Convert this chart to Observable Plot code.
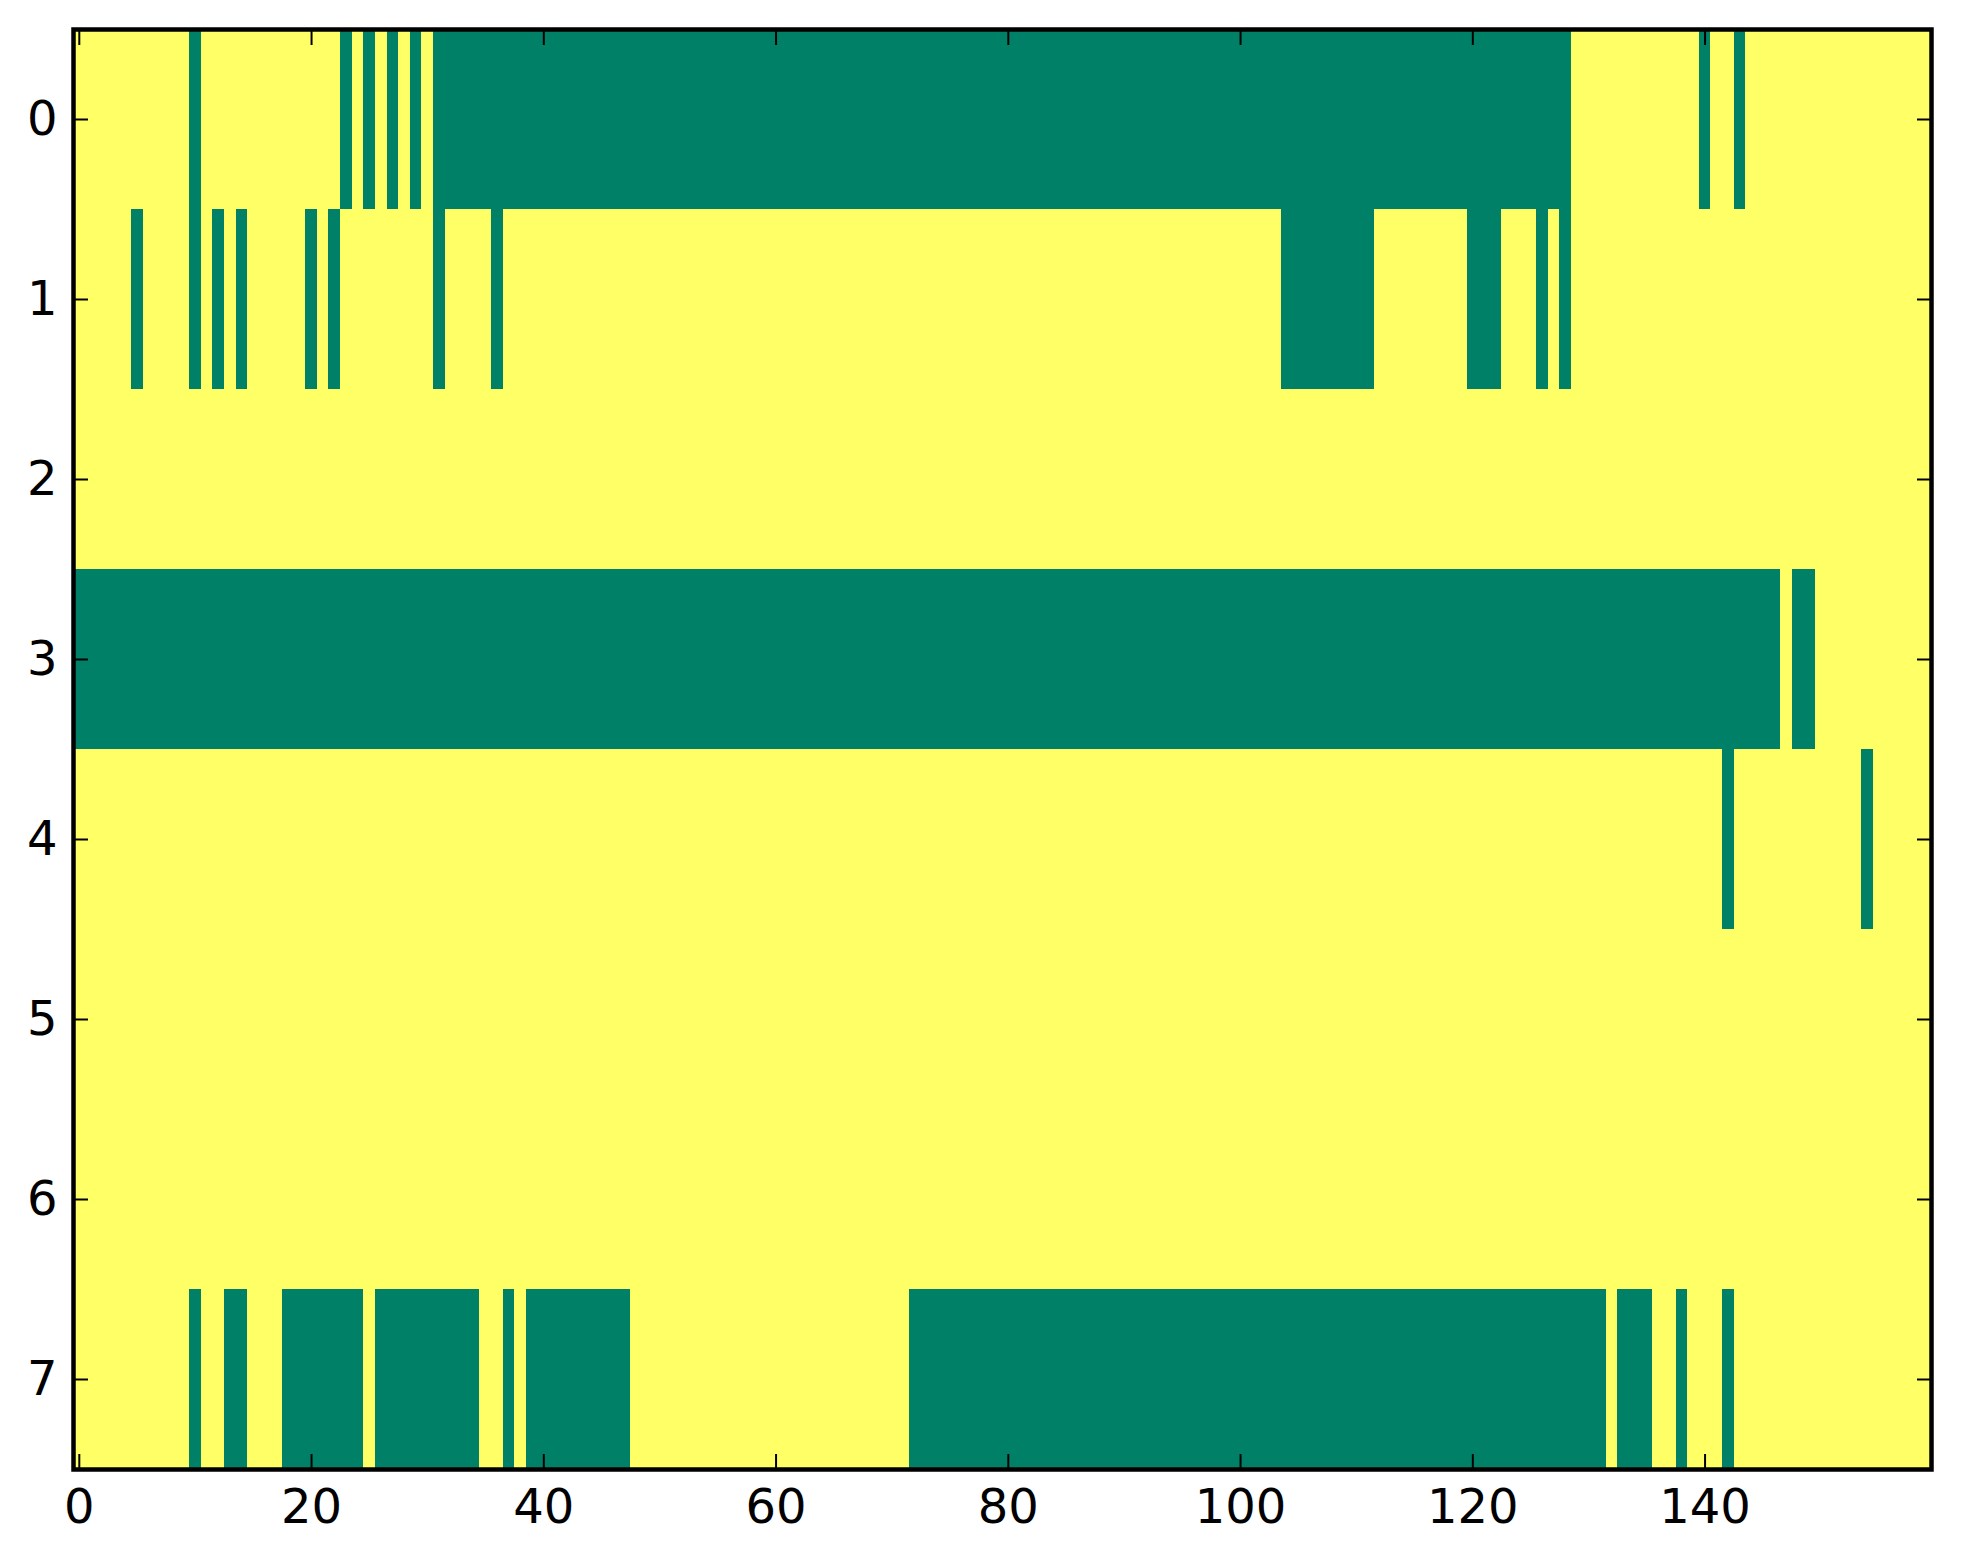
<!DOCTYPE html>
<html>
<head>
<meta charset="utf-8">
<script src="https://cdn.jsdelivr.net/npm/d3@7"></script>
<script src="https://cdn.jsdelivr.net/npm/@observablehq/plot@0.6"></script>
<style>
  html, body { margin: 0; padding: 0; background: #fff; }
  #chart { width: 1963px; height: 1564px; }
</style>
</head>
<body>
<div id="chart"></div>
<script>
// Image size: 8 rows x 160 columns, binary values (0 = green, 1 = yellow; "summer" colormap)
const nRows = 8;
const nCols = 160;

// Runs of green (value 0) cells per row: [firstColumn, lastColumn]
const row0Green = [[10,10],[23,23],[25,25],[27,27],[29,29],[31,128],[140,140],[143,143]];
const row1Green = [[5,5],[10,10],[12,12],[14,14],[20,20],[22,22],[31,31],[36,36],[104,111],[120,122],[126,126],[128,128]];
const row2Green = [];
const row3Green = [[0,146],[148,149]];
const row4Green = [[142,142],[154,154]];
const row5Green = [];
const row6Green = [];
const row7Green = [[10,10],[13,14],[18,24],[26,34],[37,37],[39,47],[72,131],[133,135],[138,138],[142,142]];

const xTicks = [0, 20, 40, 60, 80, 100, 120, 140];
const yTicks = [0, 1, 2, 3, 4, 5, 6, 7];

const greenRuns = [row0Green, row1Green, row2Green, row3Green, row4Green, row5Green, row6Green, row7Green];

// Build full grid of cells
const cells = [];
for (let r = 0; r < nRows; r++) {
  const vals = new Array(nCols).fill(1);
  for (const [a, b] of greenRuns[r]) for (let c = a; c <= b; c++) vals[c] = 0;
  for (let c = 0; c < nCols; c++) cells.push({row: r, col: c, value: vals[c]});
}

const font = "DejaVu Sans";
const fmt = d3.format("d");
const chart = Plot.plot({
  width: 1963,
  height: 1564,
  marginLeft: 73,
  marginRight: 32,
  marginTop: 29,
  marginBottom: 95,
  style: {fontFamily: font, fontSize: "48px", background: "#fff", color: "#000"},
  x: {type: "linear", domain: [-0.5, nCols - 0.5]},
  y: {type: "linear", domain: [-0.5, nRows - 0.5], reverse: true},
  color: {type: "linear", domain: [0, 1], range: ["#008066", "#ffff66"]},
  marks: [
    Plot.rect(cells, {
      x1: d => d.col - 0.5, x2: d => d.col + 0.5,
      y1: d => d.row - 0.5, y2: d => d.row + 0.5,
      fill: "value", shapeRendering: "crispEdges"
    }),
    Plot.axisX(xTicks, {anchor: "bottom", tickSize: -15, tickPadding: 34, tickFormat: fmt, strokeWidth: 2, label: null, fontSize: 48, fill: "#000"}),
    Plot.axisX(xTicks, {anchor: "top", tickSize: -15, tickFormat: () => "", strokeWidth: 2, label: null}),
    Plot.axisY(yTicks, {anchor: "left", tickSize: -15, tickPadding: 31, tickFormat: fmt, strokeWidth: 2, label: null, fontSize: 48, fill: "#000"}),
    Plot.axisY(yTicks, {anchor: "right", tickSize: -15, tickFormat: () => "", strokeWidth: 2, label: null}),
    Plot.frame({stroke: "#000", strokeWidth: 4.5})
  ]
});
document.getElementById("chart").appendChild(chart);
</script>
</body>
</html>
